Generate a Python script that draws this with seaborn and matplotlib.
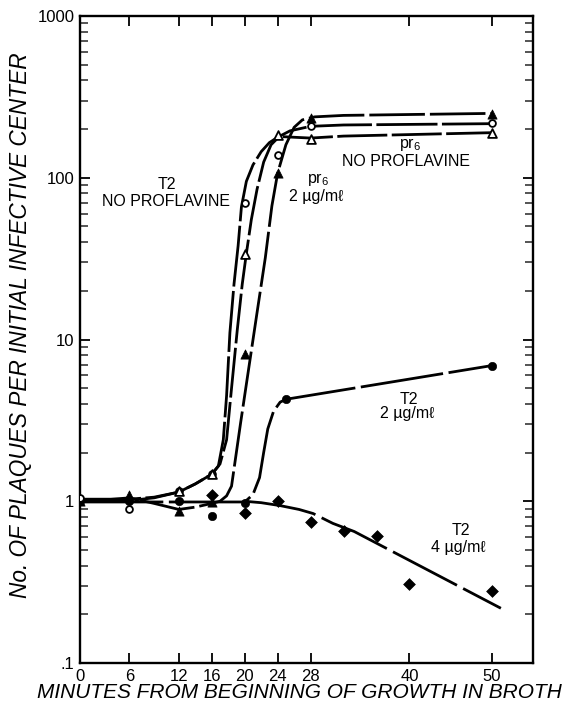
import matplotlib
matplotlib.use("Agg")
import matplotlib.pyplot as plt
import matplotlib.ticker as mticker
import seaborn as sns

# ---- measured points (minutes, plaques per infective center) ----
t2_none_t = [0, 6, 12, 16, 20, 24, 28, 50]
t2_none_v = [1.05, 0.89, 1.16, 1.47, 70, 138, 209, 217]

pr6_none_t = [12, 16, 20, 24, 28, 50]
pr6_none_v = [1.16, 1.47, 34, 184, 173, 188]

pr6_2ug_t = [0, 6, 12, 16, 20, 24, 28, 50]
pr6_2ug_v = [1.0, 1.10, 0.87, 0.99, 8.1, 107, 233, 247]

t2_2ug_t = [0, 6, 12, 16, 20, 25, 50]
t2_2ug_v = [1.0, 1.0, 1.0, 0.81, 0.98, 4.27, 6.9]

t2_4ug_t = [16, 20, 24, 28, 32, 36, 40, 50]
t2_4ug_v = [1.09, 0.85, 1.0, 0.745, 0.655, 0.61, 0.307, 0.277]

# ---- hand drawn curves ----
t2_none_curve_t = [0, 6, 9, 12, 14, 16, 16.8, 17.4, 17.8, 18.2, 18.7, 19.2, 19.6, 20.2, 21, 22, 23, 24, 25.5, 28, 32, 50]
t2_none_curve_v = [1.03, 1.03, 1.06, 1.14, 1.28, 1.47, 1.65, 2.4, 4.5, 11, 22, 38, 66, 95, 120, 145, 165, 178, 195, 208, 212, 216]

pr6_none_curve_t = [0, 6, 9, 12, 14, 16, 17, 17.8, 18.4, 19.1, 19.7, 20.2, 20.8, 21.5, 22.3, 23.2, 24.2, 26, 28, 32, 50]
pr6_none_curve_v = [1.01, 1.01, 1.05, 1.14, 1.28, 1.47, 1.7, 2.4, 5, 11.5, 22, 34, 55, 85, 125, 160, 180, 178, 176, 181, 190]

pr6_2ug_curve_t = [0, 6, 9, 12, 14, 16, 17, 17.8, 18.4, 19.5, 20.5, 21.5, 22.5, 23.3, 24, 25, 26, 27, 28.5, 32, 50]
pr6_2ug_curve_v = [0.99, 1.05, 0.97, 0.89, 0.92, 0.97, 1.0, 1.08, 1.24, 3.05, 6.7, 14.7, 32, 67, 107, 160, 205, 228, 238, 243, 250]

t2_2ug_curve_t = [0, 6, 12, 16, 20, 21, 21.8, 22.3, 22.8, 23.5, 24.3, 25, 50]
t2_2ug_curve_v = [0.99, 0.99, 0.99, 0.99, 0.99, 1.1, 1.4, 2.0, 2.8, 3.6, 4.1, 4.27, 6.9]

t2_4ug_curve_t = [20, 22, 24.3, 26.6, 28.3, 30.7, 33.3, 51.1]
t2_4ug_curve_v = [1.0, 0.98, 0.94, 0.89, 0.84, 0.73, 0.65, 0.218]

x_ticks = [0, 6, 12, 16, 20, 24, 28, 40, 50]
y_ticks = [0.1, 1, 10, 100, 1000]
y_tick_labels = [".1", "1", "10", "100", "1000"]

sns.set_theme(style="ticks")
plt.rcParams["font.family"] = ["Liberation Sans", "DejaVu Sans"]
plt.rcParams["text.color"] = "black"
plt.rcParams["mathtext.fontset"] = "custom"
plt.rcParams["mathtext.rm"] = "Liberation Sans"

fig = plt.figure(figsize=(5.66, 7.12), dpi=100)
ax = fig.add_axes([0.1413, 0.0688, 0.8004, 0.9087])

curves = [
    (t2_none_curve_t, t2_none_curve_v, (0, (22, 1.6))),
    (pr6_none_curve_t, pr6_none_curve_v, (0, (18, 1.6))),
    (pr6_2ug_curve_t, pr6_2ug_curve_v, (0, (20, 1.8))),
    (t2_2ug_curve_t, t2_2ug_curve_v, (0, (30, 2))),
    (t2_4ug_curve_t, t2_4ug_curve_v, (0, (26, 2.5))),
]
for ct, cv, ls in curves:
    sns.lineplot(x=ct, y=cv, ax=ax, sort=False, estimator=None,
                 color="black", lw=2.0, linestyle=ls, zorder=2)

# markers
sns.scatterplot(x=t2_2ug_t, y=t2_2ug_v, ax=ax, marker="o", s=36,
                color="black", edgecolor="black", zorder=4)
sns.scatterplot(x=pr6_2ug_t, y=pr6_2ug_v, ax=ax, marker="^", s=44,
                color="black", edgecolor="black", zorder=4)
sns.scatterplot(x=t2_4ug_t, y=t2_4ug_v, ax=ax, marker="D", s=36,
                color="black", edgecolor="black", zorder=4)
sns.scatterplot(x=t2_none_t, y=t2_none_v, ax=ax, marker="o", s=24,
                facecolor="white", edgecolor="black", linewidth=1.3, zorder=5)
sns.scatterplot(x=pr6_none_t, y=pr6_none_v, ax=ax, marker="^", s=40,
                facecolor="white", edgecolor="black", linewidth=1.3, zorder=5)

ax.set_yscale("log")
ax.set_xlim(0, 55)
ax.set_ylim(0.1, 1000)
ax.set_xticks(x_ticks)
ax.set_xticklabels([str(v) for v in x_ticks])
ax.set_yticks(y_ticks)
ax.set_yticklabels(y_tick_labels)
ax.yaxis.set_minor_locator(mticker.LogLocator(base=10, subs=range(2, 10)))
ax.yaxis.set_minor_formatter(mticker.NullFormatter())

ax.tick_params(axis="both", which="major", direction="in", length=7, width=1.3,
               top=True, right=True, labelsize=12, colors="black", pad=4)
ax.tick_params(axis="y", which="minor", direction="in", length=6, width=1.1,
               left=True, right=True)
for sp in ax.spines.values():
    sp.set_visible(True)
    sp.set_linewidth(1.7)
    sp.set_color("black")
ax.set_xlabel("")
ax.set_ylabel("")

# annotations
txt = dict(ha="center", va="center", fontsize=11.5, color="black")
ax.text(10.6, 91, "T2", **txt)
ax.text(10.5, 71, "NO PROFLAVINE", **txt)
ax.text(28.9, 98, "pr$_6$", **txt)
ax.text(28.7, 77, "2 µg/mℓ", **txt)
ax.text(40.1, 161, "pr$_6$", **txt)
ax.text(39.6, 126, "NO PROFLAVINE", **txt)
ax.text(39.9, 4.27, "T2", **txt)
ax.text(39.7, 3.5, "2 µg/mℓ", **txt)
ax.text(46.2, 0.661, "T2", **txt)
ax.text(45.9, 0.52, "4 µg/mℓ", **txt)

fig.text(21 / 566, 1 - 325 / 712, "No. OF PLAQUES PER INITIAL INFECTIVE CENTER",
         rotation=90, ha="center", va="center", fontsize=16.3, style="italic",
         color="black")
fig.text(299 / 566, 1 - 693 / 712, "MINUTES FROM BEGINNING OF GROWTH IN BROTH",
         ha="center", va="center", fontsize=15, style="italic", color="black")

fig.savefig("out.png", dpi=100, facecolor="white")
